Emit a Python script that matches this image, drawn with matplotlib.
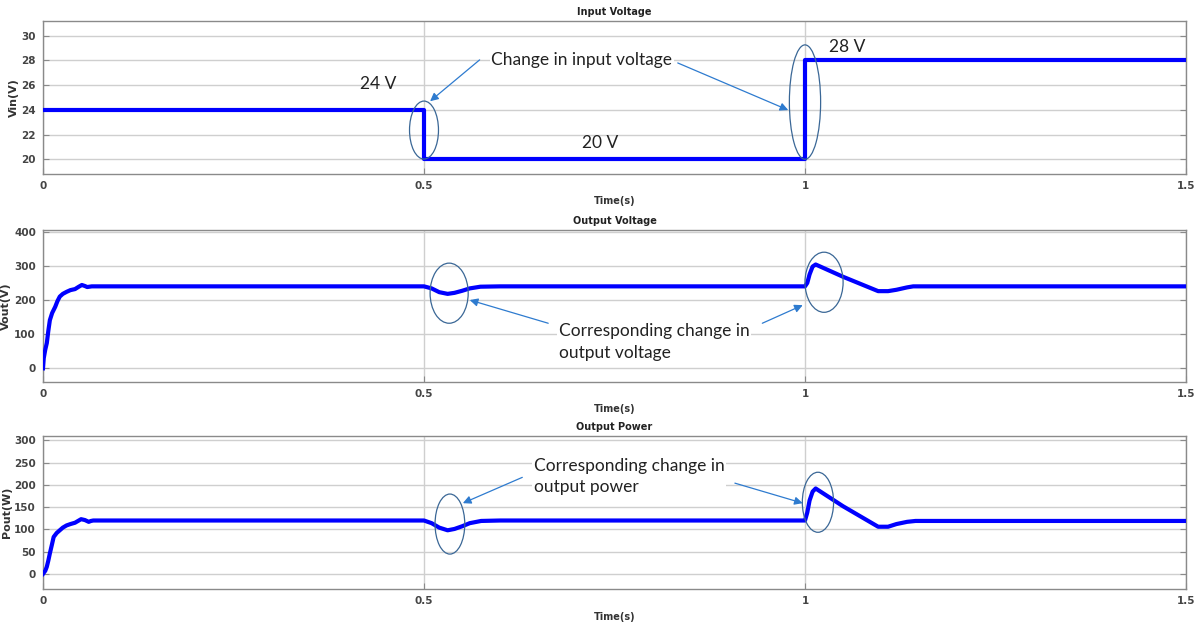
import matplotlib
matplotlib.use("Agg")
import matplotlib.pyplot as plt
from matplotlib.patches import Ellipse

# ---- simulated converter response ----
vin_t = [0.0, 0.5, 0.5, 1.0, 1.0, 1.5]
vin_v = [24, 24, 20, 20, 28, 28]

vout_t = [0.0, 0.001, 0.003, 0.005, 0.007, 0.009, 0.012, 0.016, 0.019, 0.022, 0.026,
          0.031, 0.036, 0.042, 0.047, 0.051, 0.055, 0.058, 0.061, 0.064,
          0.5, 0.51, 0.52, 0.531, 0.54, 0.55, 0.56, 0.574, 0.6,
          1.0, 1.003, 1.006, 1.01, 1.014, 1.05, 1.096, 1.109, 1.12, 1.134, 1.142, 1.5]
vout_v = [0, 30, 55, 74, 110, 141, 162, 180, 197, 210, 218,
          224, 229, 232, 239, 244, 241, 238, 239, 240,
          240, 234, 223, 218, 221, 227, 234, 239, 240,
          240, 250, 275, 298, 304, 268, 226, 226, 230, 237, 240, 240]

pout_t = [0.0, 0.003, 0.005, 0.007, 0.009, 0.012, 0.014, 0.018, 0.022, 0.026,
          0.031, 0.036, 0.042, 0.046, 0.05, 0.055, 0.06, 0.063, 0.066,
          0.5, 0.51, 0.52, 0.531, 0.54, 0.55, 0.56, 0.575, 0.6,
          1.0, 1.003, 1.006, 1.01, 1.014, 1.05, 1.096, 1.109, 1.12, 1.134, 1.145, 1.5]
pout_v = [0, 7, 16, 30, 46, 68, 83, 92, 98, 104,
          109, 112, 115, 119, 123, 121, 117, 119, 120,
          120, 114, 104, 98, 101, 107, 114, 119, 120,
          120, 138, 165, 185, 192, 152, 106, 106, 112, 117, 119, 119]

x_ticks = [0, 0.5, 1, 1.5]
x_tick_labels = ["0", "0.5", "1", "1.5"]
vin_ticks = [20, 22, 24, 26, 28, 30]
vout_ticks = [0, 100, 200, 300, 400]
pout_ticks = [0, 50, 100, 150, 200, 250, 300]

LINE = "#0000FF"
ELL = "#3A6796"
ARR = "#2E7BCF"
NOTE_FONT = ["Lato", "DejaVu Sans"]

fig = plt.figure(figsize=(11.96, 6.22), dpi=100)

W, H = 1196, 622


def make_axes(top_px, bot_px):
    left, right = 43, 1186
    return fig.add_axes([left / W, 1 - bot_px / H, (right - left) / W, (bot_px - top_px) / H])


def style(ax, title, ylabel, yticks, ylim):
    ax.set_xlim(0, 1.5)
    ax.set_ylim(*ylim)
    ax.set_xticks(x_ticks)
    ax.set_xticklabels(x_tick_labels)
    ax.set_yticks(yticks)
    ax.grid(True, color="#cfcfcf", linewidth=1.0)
    ax.set_axisbelow(True)
    for s in ax.spines.values():
        s.set_color("#8a8a8a")
        s.set_linewidth(1.0)
    ax.tick_params(direction="in", length=4, color="#8a8a8a", labelsize=7.5,
                   labelcolor="#444444", right=True, top=False, pad=5)
    for lab in ax.get_xticklabels() + ax.get_yticklabels():
        lab.set_fontweight("bold")
    ax.set_title(title, fontsize=7, fontweight="bold", color="#222222", pad=4)
    ax.set_xlabel("Time(s)", fontsize=7, fontweight="bold", color="#333333", labelpad=4)
    ax.set_ylabel(ylabel, fontsize=8, fontweight="bold", color="#333333", labelpad=2)


def ellipse(ax, t, v, w, h):
    ax.add_patch(Ellipse((t, v), w, h, fill=False, edgecolor=ELL, linewidth=0.9, zorder=4))


def arrow(ax, start, end):
    ax.annotate("", xy=end, xytext=start,
                arrowprops=dict(arrowstyle="-|>", color=ARR, lw=0.9,
                                mutation_scale=12, shrinkA=0, shrinkB=0), zorder=6)


# Input voltage
ax1 = make_axes(21, 174)
ax1.plot(vin_t, vin_v, color=LINE, linewidth=3.0, zorder=3)
style(ax1, "Input Voltage", "Vin(V)", vin_ticks, (18.8, 31.2))
ellipse(ax1, 0.5, 22.36, 0.038, 4.7)
ellipse(ax1, 1.0, 24.63, 0.041, 9.27)
arrow(ax1, (0.573, 28.05), (0.508, 24.7))
arrow(ax1, (0.833, 27.8), (0.978, 23.98))
ax1.text(0.707, 28.05, "Change in input voltage", fontsize=12.5, family=NOTE_FONT,
         ha="center", va="center", color="#222222", zorder=5,
         bbox=dict(facecolor="white", edgecolor="none", pad=1))
ax1.text(0.44, 26.1, "24 V", fontsize=12.5, family=NOTE_FONT, ha="center", va="center", color="#222222")
ax1.text(0.731, 21.3, "20 V", fontsize=12.5, family=NOTE_FONT, ha="center", va="center", color="#222222")
ax1.text(1.056, 29.1, "28 V", fontsize=12.5, family=NOTE_FONT, ha="center", va="center", color="#222222")

# Output voltage
ax2 = make_axes(230, 382)
ax2.plot(vout_t, vout_v, color=LINE, linewidth=3.0, zorder=3)
style(ax2, "Output Voltage", "Vout(V)", vout_ticks, (-40, 405))
ellipse(ax2, 0.533, 220, 0.05, 176)
ellipse(ax2, 1.025, 252, 0.05, 176)
arrow(ax2, (0.663, 132), (0.560, 200))
arrow(ax2, (0.944, 132), (0.997, 185))
ax2.text(0.677, 77, "Corresponding change in\noutput voltage", fontsize=12.5, family=NOTE_FONT,
         ha="left", va="center", color="#222222", linespacing=1.45, zorder=5,
         bbox=dict(facecolor="white", edgecolor="none", pad=1))

# Output power
ax3 = make_axes(436, 589)
ax3.plot(pout_t, pout_v, color=LINE, linewidth=3.0, zorder=3)
style(ax3, "Output Power", "Pout(W)", pout_ticks, (-34, 310))
ellipse(ax3, 0.534, 112, 0.039, 135)
ellipse(ax3, 1.017, 161, 0.041, 135)
arrow(ax3, (0.629, 217), (0.551, 159))
arrow(ax3, (0.908, 204), (0.997, 159))
ax3.text(0.644, 219, "Corresponding change in\noutput power", fontsize=12.5, family=NOTE_FONT,
         ha="left", va="center", color="#222222", linespacing=1.45, zorder=5,
         bbox=dict(facecolor="white", edgecolor="none", pad=1))

fig.savefig("out.png", dpi=100, facecolor="white")
